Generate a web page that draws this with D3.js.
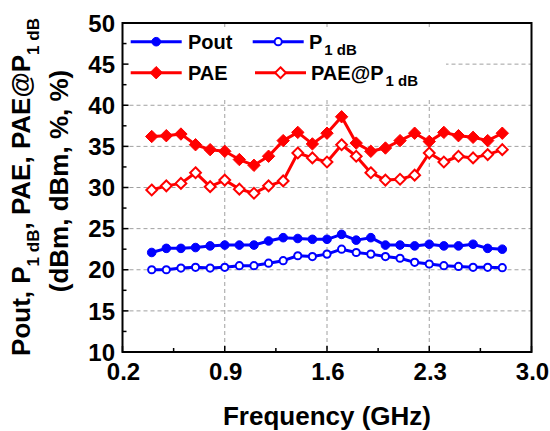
<!DOCTYPE html>
<html><head><meta charset="utf-8">
<script src="https://cdn.jsdelivr.net/npm/d3@7"></script>
<style>body{margin:0;background:#fff;} svg{display:block;} text{font-family:"Liberation Sans",Arial,sans-serif;font-weight:bold;fill:#000;}</style>
</head><body>
<svg id="c" width="550" height="431"></svg>
<script>
const freq = [0.4,0.5,0.6,0.7,0.8,0.9,1.0,1.1,1.2,1.3,1.4,1.5,1.6,1.7,1.8,1.9,2.0,2.1,2.2,2.3,2.4,2.5,2.6,2.7,2.8];
const pout = [22.1,22.6,22.6,22.7,22.9,23.0,23.0,23.0,23.5,23.9,23.8,23.7,23.7,24.3,23.6,23.9,23.0,23.0,22.9,23.1,22.9,22.9,23.1,22.6,22.5];
const p1db = [20.0,20.0,20.2,20.3,20.2,20.3,20.5,20.5,20.8,21.1,21.7,21.6,21.9,22.5,22.1,21.9,21.6,21.4,20.9,20.7,20.5,20.4,20.3,20.3,20.25];
const pae = [36.2,36.3,36.5,35.2,34.6,34.4,33.4,32.7,33.8,35.7,36.7,35.3,36.6,38.6,35.4,34.4,34.8,35.7,36.6,35.6,36.7,36.3,36.1,35.7,36.6];
const paeP1 = [29.7,30.2,30.5,31.8,30.1,30.9,29.8,29.3,30.2,30.8,34.2,33.6,33.1,35.2,33.8,31.8,30.9,31.0,31.5,34.2,33.1,33.8,33.6,34.0,34.6];
const xTicks = [0.2,0.9,1.6,2.3,3.0];
const yTicks = [10,15,20,25,30,35,40,45,50];

const svg = d3.select("#c");
const L=122.5, R=531.5, T=23, B=352;
const x = d3.scaleLinear().domain([0.2,3.0]).range([L,R]);
const y = d3.scaleLinear().domain([10,50]).range([B,T]);

// grid
const g = svg.append("g").attr("stroke","#a0a0a0").attr("stroke-width",1).attr("stroke-dasharray","4,3");
xTicks.slice(1,-1).forEach(v=>g.append("line").attr("x1",x(v)).attr("x2",x(v)).attr("y1",T).attr("y2",B));
yTicks.slice(1,-1).forEach(v=>g.append("line").attr("x1",L).attr("x2",R).attr("y1",y(v)).attr("y2",y(v)));

// legend background
svg.append("rect").attr("x",L+1).attr("y",28).attr("width",445-L).attr("height",71).attr("fill","#fff");

const series = [
  {name:"Pout", data:pout, color:"#0000ff", shape:"circle", filled:true},
  {name:"P1dB", data:p1db, color:"#0000ff", shape:"circle", filled:false},
  {name:"PAE", data:pae, color:"#ff0000", shape:"diamond", filled:true},
  {name:"PAEP1", data:paeP1, color:"#ff0000", shape:"diamond", filled:false}
];
function marker(sel, s, cx, cy){
  if(s.shape==="circle"){
    sel.append("circle").attr("cx",cx).attr("cy",cy).attr("r", s.filled?4.3:3.6)
      .attr("fill", s.filled?s.color:"#fff").attr("stroke",s.color).attr("stroke-width", s.filled?1:2);
  } else {
    const h = s.filled?6.2:5.4;
    sel.append("path").attr("d",`M${cx},${cy-h}L${cx+h},${cy}L${cx},${cy+h}L${cx-h},${cy}Z`)
      .attr("fill", s.filled?s.color:"#fff").attr("stroke",s.color).attr("stroke-width", s.filled?1:2);
  }
}
const line = d3.line().x((d,i)=>x(freq[i])).y(d=>y(d));
series.forEach(s=>{
  svg.append("path").attr("d",line(s.data)).attr("fill","none").attr("stroke",s.color).attr("stroke-width",3).attr("stroke-linejoin","round");
  const mg = svg.append("g");
  s.data.forEach((v,i)=>marker(mg,s,x(freq[i]),y(v)));
});

// axes frame
svg.append("rect").attr("x",L).attr("y",T).attr("width",R-L).attr("height",B-T).attr("fill","none").attr("stroke","#000").attr("stroke-width",2);
// ticks inward
const tk = svg.append("g").attr("stroke","#000").attr("stroke-width",1.5);
d3.range(0.2,3.0001,0.35).forEach((v,i)=>{
  const len = i%2===0?6:4;
  tk.append("line").attr("x1",x(v)).attr("x2",x(v)).attr("y1",B).attr("y2",B-len);
});
d3.range(10,50.0001,2.5).forEach((v,i)=>{
  const len = i%2===0?6:4;
  tk.append("line").attr("x1",L).attr("x2",L+len).attr("y1",y(v)).attr("y2",y(v));
});
// tick labels
xTicks.forEach(v=>svg.append("text").attr("x",x(v)+1).attr("y",380).attr("text-anchor","middle").attr("font-size",24).text(v.toFixed(1)));
yTicks.forEach(v=>svg.append("text").attr("x",115).attr("y",y(v)).attr("dy","0.36em").attr("text-anchor","end").attr("font-size",24).text(v));

// axis titles
svg.append("text").attr("x",327).attr("y",425).attr("text-anchor","middle").attr("font-size",26).text("Frequency (GHz)");
const t1 = svg.append("text").attr("transform","translate(30,187) rotate(-90)").attr("text-anchor","middle").attr("font-size",26);
t1.append("tspan").text("Pout, P");
t1.append("tspan").attr("font-size",17).attr("dy",9).text("1 dB");
t1.append("tspan").attr("dy",-9).text(", PAE, PAE@P");
t1.append("tspan").attr("font-size",17).attr("dy",9).text("1 dB");
svg.append("text").attr("transform","translate(68,181) rotate(-90)").attr("text-anchor","middle").attr("font-size",26).text("(dBm, dBm, %, %)");

// legend
const leg = [
  {s:series[0], x0:130.7, y0:41.7, tx:188, ty:48.5, label:"Pout", sub:null},
  {s:series[1], x0:252.7, y0:41.7, tx:309, ty:48.5, label:"P", sub:"1 dB"},
  {s:series[2], x0:130.7, y0:72.7, tx:188, ty:80, label:"PAE", sub:null},
  {s:series[3], x0:255, y0:72.7, tx:311, ty:80, label:"PAE@P", sub:"1 dB"}
];
leg.forEach(l=>{
  svg.append("line").attr("x1",l.x0).attr("x2",l.x0+51).attr("y1",l.y0).attr("y2",l.y0).attr("stroke",l.s.color).attr("stroke-width",3);
  marker(svg,l.s,l.x0+25.5,l.y0);
  const t = svg.append("text").attr("x",l.tx).attr("y",l.ty).attr("font-size",20);
  t.append("tspan").text(l.label);
  if(l.sub) t.append("tspan").attr("font-size",15).attr("dx",2).attr("dy",6).text(l.sub);
});
</script>
</body></html>
